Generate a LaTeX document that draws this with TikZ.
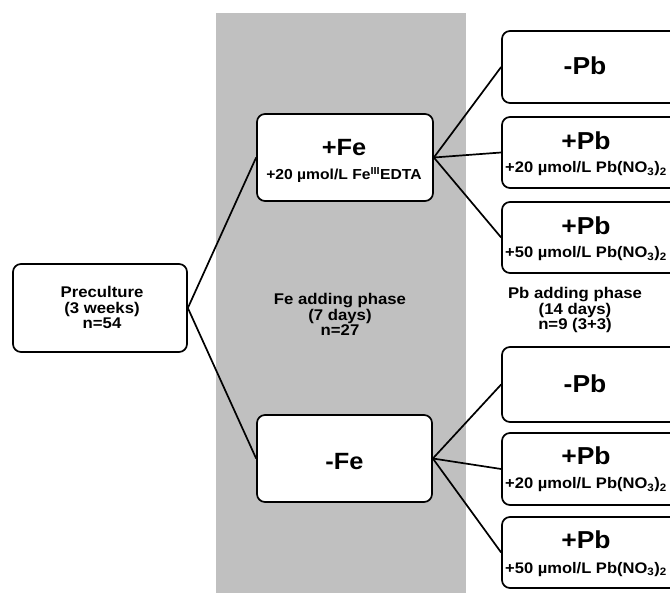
\documentclass[tikz,border=0pt]{standalone}
\usepackage{fontspec}
\setmainfont[FakeStretch=1.08]{Liberation Sans}
\definecolor{band}{RGB}{192,192,192}
\begin{document}
\begin{tikzpicture}[x=1pt,y=-1pt,
 box/.style={draw=black, line width=1.7pt, rounded corners=8pt, fill=white, inner sep=0pt},
 conn/.style={line width=1.7pt},
 lbl/.style={font=\bfseries\fontsize{15.5}{15.5}\selectfont, align=center, inner sep=0pt},
 ttl/.style={font=\bfseries\fontsize{23.5}{23.5}\selectfont, inner sep=0pt, anchor=base},
 pbttl/.style={font=\bfseries\fontsize{24.5}{24.5}\selectfont, inner sep=0pt, anchor=base},
 sub/.style={font=\bfseries\fontsize{14.5}{14.5}\selectfont, inner sep=0pt, anchor=base},
 pbsub/.style={font=\bfseries\fontsize{15.3}{15.3}\selectfont, inner sep=0pt, anchor=base west}]
\useasboundingbox (0,0) rectangle (670,593);
\clip (0,0) rectangle (670,593);
\fill[band] (216,13) rectangle (466,593);

% boxes
\node[box, minimum width=174pt, minimum height=88pt] (pre) at (100,308) {};
\node[box, minimum width=176pt, minimum height=87pt] (fep) at (345,157.5) {};
\node[box, minimum width=175pt, minimum height=87pt] (fem) at (344.5,458.5) {};
\node[box, minimum width=188pt, minimum height=72pt] (a1) at (596,67) {};
\node[box, minimum width=188pt, minimum height=71pt] (a2) at (596,152.5) {};
\node[box, minimum width=188pt, minimum height=71pt] (a3) at (596,237.5) {};
\node[box, minimum width=188pt, minimum height=75pt] (b1) at (596,384.5) {};
\node[box, minimum width=188pt, minimum height=72pt] (b2) at (596,469) {};
\node[box, minimum width=188pt, minimum height=71pt] (b3) at (596,552.5) {};

% texts
\node[lbl] (pret) at (102,307.5) {Preculture\\(3 weeks)\\n=54};
\node[ttl] (fept) at (344,155.5) {+Fe};
\node[sub] (feps) at (344,180) {+20 µmol/L Fe\textsuperscript{III}EDTA};
\node[ttl] (femt) at (344.5,470) {-Fe};
\node[lbl] (fel) at (340,314.5) {Fe adding phase\\(7 days)\\n=27};
\node[lbl] (pbl) at (575,310) {Pb adding phase\\(14 days)\\n=9 (3+3)};

\node[pbttl] (a1t) at (585,75) {-Pb};
\node[pbttl] (a2t) at (586,150) {+Pb};
\node[pbsub] (a2s) at (505,173) {+20 µmol/L Pb(NO\textsubscript{3})\textsubscript{2}};
\node[pbttl] (a3t) at (586,235) {+Pb};
\node[pbsub] (a3s) at (505,258) {+50 µmol/L Pb(NO\textsubscript{3})\textsubscript{2}};

\node[pbttl] (b1t) at (585,393) {-Pb};
\node[pbttl] (b2t) at (586,465) {+Pb};
\node[pbsub] (b2s) at (505,489) {+20 µmol/L Pb(NO\textsubscript{3})\textsubscript{2}};
\node[pbttl] (b3t) at (586,549) {+Pb};
\node[pbsub] (b3s) at (505,573) {+50 µmol/L Pb(NO\textsubscript{3})\textsubscript{2}};

% connectors
\draw[conn] (pre.east) -- (fep.west);
\draw[conn] (pre.east) -- (fem.west);
\draw[conn] (fep.east) -- (a1.west);
\draw[conn] (fep.east) -- (a2.west);
\draw[conn] (fep.east) -- (a3.west);
\draw[conn] (fem.east) -- (b1.west);
\draw[conn] (fem.east) -- (b2.west);
\draw[conn] (fem.east) -- (b3.west);
\end{tikzpicture}
\end{document}
